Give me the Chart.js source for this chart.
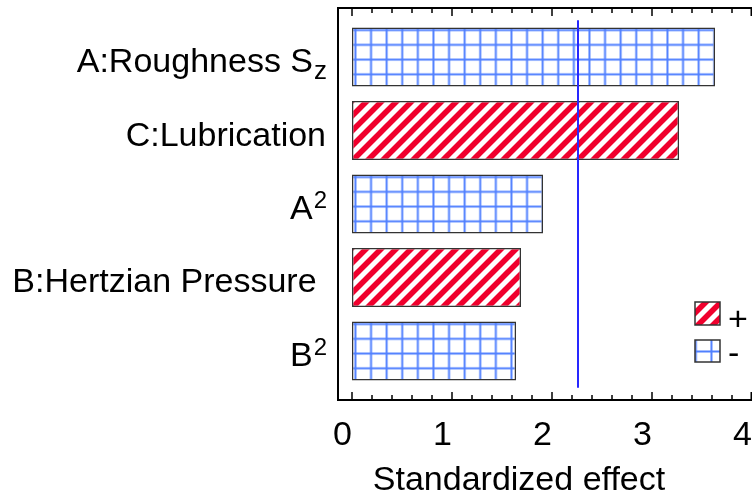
<!DOCTYPE html>
<html>
<head>
<meta charset="utf-8">
<style>
  html, body { margin: 0; padding: 0; background: #fff; }
  #wrap { width: 754px; height: 494px; }
</style>
</head>
<body>
<div id="wrap"><canvas id="chart"></canvas></div>
<script src="https://cdn.jsdelivr.net/npm/chart.js@4/dist/chart.umd.min.js"></script>
<script>
/* ================= DATA ================= */
const factors = ['A:Roughness S_z', 'C:Lubrication', 'A^2', 'B:Hertzian Pressure ', 'B^2'];
const effects = [3.63, 3.27, 1.91, 1.69, 1.64];
const signs = ['-', '+', '-', '+', '-'];
const criticalEffect = 2.26;
const xTicks = [0, 1, 2, 3, 4];
const legendItems = ['+', '-'];

/* ================= STYLE ================= */
const FONT = '"Liberation Sans", Arial, sans-serif';
const RED = 'rgb(240,0,45)';
const BLUE = 'rgb(80,128,255)';
const EDGE = '#333';

/* ================= PATTERNS ================= */
function stripePattern(ctx, x0, y0) {
  const p = 15, n = 2, s = p * n;
  const c = document.createElement('canvas');
  c.width = s; c.height = s;
  const g = c.getContext('2d');
  g.fillStyle = '#fff';
  g.fillRect(0, 0, s, s);
  g.strokeStyle = RED;
  g.lineWidth = 5.6;
  g.lineCap = 'square';
  g.beginPath();
  for (let k = -n - 1; k <= n + 1; k++) {
    g.moveTo(k * p - s, 2 * s);
    g.lineTo(k * p + 2 * s, -s);
  }
  g.stroke();
  const pat = ctx.createPattern(c, 'repeat');
  pat.setTransform(new DOMMatrix().translate(Math.round(x0), Math.round(y0)));
  return pat;
}

function gridPattern(ctx, x0, y0) {
  const w = 16, h = 15;
  const c = document.createElement('canvas');
  c.width = w; c.height = h;
  const g = c.getContext('2d');
  g.fillStyle = '#fff';
  g.fillRect(0, 0, w, h);
  g.fillStyle = BLUE;
  g.fillRect(2.5, 0, 2, h);
  g.fillRect(0, 1.5, w, 2);
  const pat = ctx.createPattern(c, 'repeat');
  pat.setTransform(new DOMMatrix().translate(x0, y0).scale(15.6 / 16, 14.75 / 15));
  return pat;
}

function barFill(c) {
  const { x, y } = c.chart.scales;
  if (!x || !y || c.dataIndex === undefined) return '#fff';
  const half = Math.abs(y.getPixelForValue(1) - y.getPixelForValue(0)) * 0.4;
  const x0 = x.getPixelForValue(0);
  const y0 = y.getPixelForValue(c.dataIndex) - half;
  return signs[c.dataIndex] === '+'
    ? stripePattern(c.chart.ctx, x0, y0)
    : gridPattern(c.chart.ctx, x0, y0);
}

/* ================= LABELS WITH SUB / SUPERSCRIPT ================= */
function drawFactor(ctx, text, right, base) {
  const m = text.match(/^(.*?)([_^])(.+)$/);
  const main = m ? m[1] : text;
  const big = '34px ' + FONT;
  const small = (m && m[2] === '_' ? '26px ' : '24px ') + FONT;
  let scriptW = 0;
  if (m) {
    ctx.font = small;
    scriptW = ctx.measureText(m[3]).width;
  }
  ctx.font = big;
  const mainW = ctx.measureText(main).width;
  const x = right - scriptW - mainW;
  ctx.textAlign = 'left';
  ctx.textBaseline = 'alphabetic';
  ctx.fillText(main, x, base);
  if (m) {
    ctx.font = small;
    ctx.fillText(m[3], x + mainW + 1, m[2] === '^' ? base - 11 : base + 7);
  }
}

/* ================= FRAME, TICKS, LINE, LEGEND ================= */
const framePlugin = {
  id: 'frame',
  afterDatasetsDraw(chart) {
    const { ctx, chartArea: a, scales: { x, y } } = chart;
    ctx.save();

    // critical value line
    ctx.strokeStyle = 'rgb(40,40,255)';
    ctx.lineWidth = 2;
    const cx = x.getPixelForValue(criticalEffect);
    ctx.beginPath();
    ctx.moveTo(cx, y.getPixelForValue(-0.5));
    ctx.lineTo(cx, y.getPixelForValue(factors.length - 0.5));
    ctx.stroke();

    // axes frame (left, top, bottom)
    ctx.strokeStyle = '#000';
    ctx.lineWidth = 2;
    ctx.beginPath();
    ctx.moveTo(a.left, a.top);
    ctx.lineTo(a.left, a.bottom);
    ctx.moveTo(a.left - 1, a.top);
    ctx.lineTo(a.right, a.top);
    ctx.moveTo(a.left - 1, a.bottom);
    ctx.lineTo(a.right, a.bottom);
    ctx.stroke();

    // inward ticks on top and bottom axes
    ctx.lineWidth = 1.5;
    ctx.beginPath();
    const last = xTicks[xTicks.length - 1];
    for (let i = 0; i * 0.2 <= last + 1e-9; i++) {
      const v = i * 0.2;
      const px = Math.min(x.getPixelForValue(v), a.right - 0.75);
      const len = i % 5 === 0 ? 8 : 5;
      ctx.moveTo(px, a.bottom);
      ctx.lineTo(px, a.bottom - len);
      ctx.moveTo(px, a.top);
      ctx.lineTo(px, a.top + len);
    }
    ctx.stroke();

    // factor labels
    ctx.fillStyle = '#000';
    factors.forEach((f, i) => {
      drawFactor(ctx, f, a.left - 12, y.getPixelForValue(i) + 15);
    });

    // axis title
    ctx.font = '34px ' + FONT;
    ctx.textAlign = 'center';
    ctx.textBaseline = 'alphabetic';
    ctx.fillText('Standardized effect', 519, 490);

    // legend
    const lx = a.right - 57;
    const boxes = [[302, 23, 330], [340, 22, 364]];
    legendItems.forEach((s, i) => {
      const [top, h, base] = boxes[i];
      ctx.fillStyle = s === '+' ? stripePattern(ctx, lx - 4, top) : gridPattern(ctx, lx + 13, top + 9);
      ctx.fillRect(lx, top, 25, h);
      ctx.strokeStyle = EDGE;
      ctx.lineWidth = 1.5;
      ctx.strokeRect(lx, top, 25, h);
      ctx.fillStyle = '#000';
      ctx.font = '34px ' + FONT;
      ctx.textAlign = 'left';
      ctx.fillText(s, lx + 33, base);
    });

    ctx.restore();
  }
};

/* ================= CHART ================= */
new Chart(document.getElementById('chart'), {
  type: 'bar',
  data: {
    datasets: [{
      data: effects.map((v, i) => ({ x: v, y: i })),
      backgroundColor: barFill,
      borderColor: EDGE,
      borderWidth: 1.5,
      borderSkipped: false,
      barPercentage: 0.8,
      categoryPercentage: 1
    }]
  },
  options: {
    indexAxis: 'y',
    responsive: true,
    maintainAspectRatio: false,
    animation: false,
    events: [],
    layout: { padding: { top: 8, right: 2, left: 0, bottom: 0 } },
    plugins: {
      legend: { display: false },
      tooltip: { enabled: false }
    },
    scales: {
      x: {
        type: 'linear',
        min: -0.14,
        max: 4,
        afterBuildTicks: s => { s.ticks = xTicks.map(v => ({ value: v })); },
        afterFit: s => { s.height = 94; s.paddingLeft = 0; s.paddingRight = 0; },
        grid: { display: false },
        border: { display: false },
        ticks: {
          color: '#000',
          font: { family: FONT, size: 34 },
          align: 'end',
          padding: 7,
          maxRotation: 0
        }
      },
      y: {
        type: 'linear',
        reverse: true,
        offset: false,
        min: -0.667,
        max: factors.length - 0.333,
        afterBuildTicks: s => { s.ticks = factors.map((f, i) => ({ value: i })); },
        afterFit: s => { s.width = 338; s.paddingTop = 0; s.paddingBottom = 0; },
        grid: { display: false, offset: false },
        border: { display: false },
        ticks: { display: false }
      }
    }
  },
  plugins: [framePlugin]
});
</script>
</body>
</html>
